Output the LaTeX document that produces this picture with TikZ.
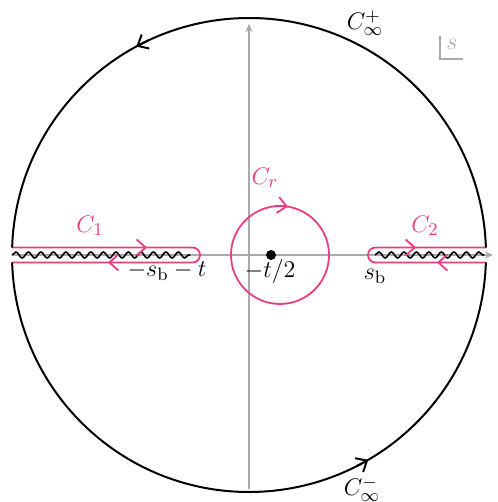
\documentclass[tikz,border=0pt]{standalone}
\usepackage{tikz}
\usetikzlibrary{arrows.meta,decorations.pathmorphing}
\definecolor{cutpink}{RGB}{232,62,130}
\definecolor{axisgrey}{RGB}{170,170,170}

\begin{document}
\begin{tikzpicture}[x=0.5pt, y=0.5pt,
    axis/.style={axisgrey, line width=0.75pt, -{Stealth[length=4pt,width=3.5pt]}},
    contour/.style={cutpink, line width=0.9pt},
    infty/.style={black, line width=1pt},
    cut/.style={black, line width=0.8pt, decorate,
                decoration={snake, segment length=6.25pt, amplitude=1.5pt}},
    barb/.style={-{Straight Barb[length=4.5pt,width=8pt]}},
    lbl/.style={font=\fontsize{13}{15}\selectfont}
]
    \useasboundingbox (-249,-247) rectangle (248,255);
    % axes
    \draw[axis] (-237,0) -- (244,0);
    \draw[axis] (0,-234) -- (0,231);
    % branch cuts
    \draw[cut] (-237,0) -- (-59,0);
    \draw[cut] (126,0) -- (235,0);
    % keyhole contours
    \draw[contour] (-236.9,7.5) -- (-56.5,7.5) arc (90:-90:7.5) -- (-236.9,-7.5);
    \draw[contour] (236.9,7.5) -- (126.5,7.5) arc (90:270:7.5) -- (236.9,-7.5);
    \draw[contour,barb] (-110,7.5) -- (-102,7.5);
    \draw[contour,barb] (-133,-7.5) -- (-141,-7.5);
    \draw[contour,barb] (159,7.5) -- (167,7.5);
    \draw[contour,barb] (196,-7.5) -- (188,-7.5);
    % small circle
    \draw[contour] (31,0) circle (49);
    \draw[contour,barb] (25.9,48.73) arc (96:80.6:49);
    \node[circle, fill=black, inner sep=0pt, minimum size=5pt] (pole) at (22,0) {};
    % large circle
    \draw[infty] (1.81:237) arc (1.81:178.19:237);
    \draw[infty] (181.81:237) arc (181.81:358.19:237);
    \draw[infty,barb] (115:237) arc (115:118.4:237);
    \draw[infty,barb] (-63:237) arc (-63:-59.8:237);
    % labels
    \node[lbl] (cinfp) at (116,232) {$C^{+}_{\infty}$};
    \node[lbl] (cinfm) at (113,-234) {$C^{-}_{\infty}$};
    \node[lbl, text=cutpink] (cone) at (-159,29) {$C_1$};
    \node[lbl, text=cutpink] (ctwo) at (176,29) {$C_2$};
    \node[lbl, text=cutpink] (cr) at (16,77) {$C_r$};
    \node[lbl] (sbl) at (-82,-16) {$-s_{\mathrm{b}}-t$};
    \node[lbl] (sbr) at (126,-21) {$s_{\mathrm{b}}$};
    \node[lbl] (half) at (21,-17) {$-t/2$};
    % plane marker
    \draw[axisgrey, line width=0.6pt] (191,219) -- (191,196) -- (214,196);
    \node[lbl, text=axisgrey] (plane) at (203,211) {$s$};
\end{tikzpicture}
\end{document}
